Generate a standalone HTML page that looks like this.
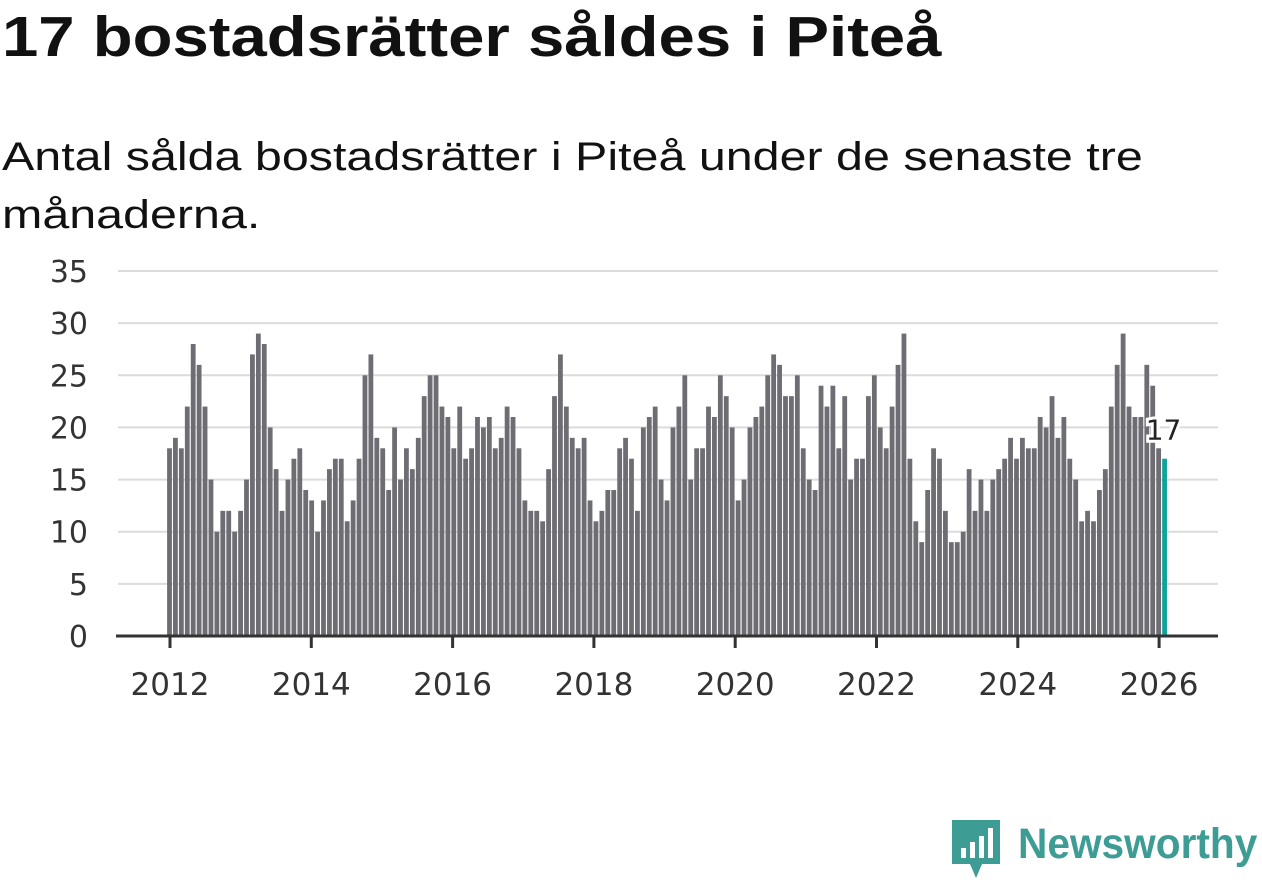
<!DOCTYPE html>
<html><head><meta charset="utf-8"><style>
body{margin:0;width:1262px;height:879px;background:#fff;font-family:"Liberation Sans",sans-serif;overflow:hidden;position:relative}
h1{position:absolute;left:2px;top:4px;margin:0;font-size:57px;font-weight:bold;color:#111;white-space:nowrap;transform:scaleX(1.145);transform-origin:left top}
.sub{position:absolute;left:2px;top:128px;margin:0;font-size:40px;line-height:58px;color:#111;white-space:nowrap;transform:scaleX(1.21);transform-origin:left top}
</style></head><body>
<h1>17 bostadsrätter såldes i Piteå</h1>
<p class="sub">Antal sålda bostadsrätter i Piteå under de senaste tre<br>månaderna.</p>
<svg id="chart" width="1262" height="879" style="position:absolute;left:0;top:0"></svg>
<div style="position:absolute;left:952px;top:820px;">
<svg width="50" height="60"><path d="M0 0H48V44H30L24 58L18 44H0Z" fill="#3d9c94"/><rect x="9" y="28" width="5" height="10" fill="#fff"/><rect x="18" y="22" width="5" height="16" fill="#fff"/><rect x="27" y="16" width="5" height="22" fill="#fff"/><rect x="36" y="8" width="5" height="30" fill="#fff"/></svg>
<span style="position:absolute;left:66px;top:0px;font-size:43px;font-weight:bold;color:#3d9c94;white-space:nowrap;transform:scaleX(0.945);transform-origin:left top">Newsworthy</span>
</div>
<script>
const values = [
18,19,18,22,28,26,22,15,10,12,12,10,
12,15,27,29,28,20,16,12,15,17,18,14,
13,10,13,16,17,17,11,13,17,25,27,19,
18,14,20,15,18,16,19,23,25,25,22,21,
18,22,17,18,21,20,21,18,19,22,21,18,
13,12,12,11,16,23,27,22,19,18,19,13,
11,12,14,14,18,19,17,12,20,21,22,15,
13,20,22,25,15,18,18,22,21,25,23,20,
13,15,20,21,22,25,27,26,23,23,25,18,
15,14,24,22,24,18,23,15,17,17,23,25,
20,18,22,26,29,17,11,9,14,18,17,12,
9,9,10,16,12,15,12,15,16,17,19,17,
19,18,18,21,20,23,19,21,17,15,11,12,
11,14,16,22,26,29,22,21,21,26,24,18,
17];
const yTicks = [0,5,10,15,20,25,30,35];
const xTickYears = [2012,2014,2016,2018,2020,2022,2024,2026];
const startYear = 2012;
const svg = document.getElementById('chart');
const NS = 'http://www.w3.org/2000/svg';
const FONT = 'DejaVu Sans, sans-serif';
const x0 = 169.5, monthW = 5.923, y0 = 636, unit = 365/35;
const xScale = i => x0 + i*monthW;
const yearX = yr => 170 + (yr-startYear)*70.65;
const yScale = v => y0 - v*unit;
function mk(tag, attrs){const e=document.createElementNS(NS,tag);for(const k in attrs)e.setAttribute(k,attrs[k]);svg.appendChild(e);return e;}
yTicks.forEach(t=>{
  const g = mk('line',{x1:118,x2:1218,y1:yScale(t),y2:yScale(t),stroke:'#dcdcdc','stroke-width':2});
  
  
  const l = mk('text',{x:88,y:yScale(t)+11,'text-anchor':'end','font-size':30,fill:'#333','font-family':FONT});
  l.textContent=t;
  
  
});
values.forEach((v,i)=>{
  const last = i===values.length-1;
  const r = mk('rect',{x:xScale(i)-2.4,y:yScale(v),width:4.8,height:v*unit,fill:last?'#10a39a':'#6e6d73'});
  
  
});
const ax = mk('line',{x1:116,x2:1218,y1:y0,y2:y0,stroke:'#333','stroke-width':3});


xTickYears.forEach(yr=>{
  const x = yearX(yr);
  const t = mk('line',{x1:x,x2:x,y1:y0,y2:y0+12,stroke:'#333','stroke-width':3});
  
  
  const l = mk('text',{x:x,y:695,'text-anchor':'middle','font-size':31,fill:'#333','font-family':FONT});
  l.textContent=yr;
  
  
});
const li = values.length-1;
const lab = mk('text',{x:xScale(li)-1,y:yScale(values[li])-19,'text-anchor':'middle','font-size':28,fill:'#222',stroke:'#fff','stroke-width':6,'paint-order':'stroke','font-family':FONT});
lab.textContent = values[li];


</script>
</body></html>
